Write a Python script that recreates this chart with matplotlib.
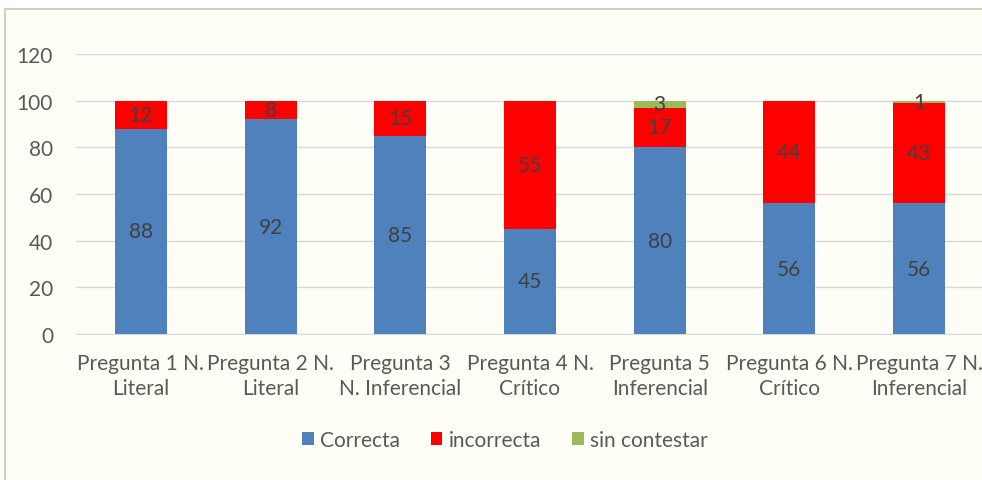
import matplotlib
matplotlib.use("Agg")
import matplotlib.pyplot as plt
from matplotlib.patches import Rectangle
import numpy as np

categories = ["Pregunta 1 N.\nLiteral", "Pregunta 2 N.\nLiteral", "Pregunta 3\nN. Inferencial",
              "Pregunta 4 N.\nCrítico", "Pregunta 5\nInferencial", "Pregunta 6 N.\nCrítico",
              "Pregunta 7 N.\nInferencial"]
correcta = [88, 92, 85, 45, 80, 56, 56]
incorrecta = [12, 8, 15, 55, 17, 44, 43]
sin_contestar = [0, 0, 0, 0, 3, 0, 1]
series_names = ["Correcta", "incorrecta", "sin contestar"]
colors = ["#4F81BD", "#FF0000", "#9BBB59"]
yticks = [0, 20, 40, 60, 80, 100, 120]

plt.rcParams['font.family'] = ['Lato', 'DejaVu Sans']
txt = "#595959"
fs = 15

fig = plt.figure(figsize=(9.82, 4.81), dpi=100)
fig.patch.set_facecolor("white")
# outer chart frame
fig.add_artist(Rectangle((5/982, -0.01), 1.0, (481-10)/481 + 0.01, transform=fig.transFigure,
                         facecolor="#FEFEF7", edgecolor="#C8C8A8", linewidth=1.2, zorder=-10))

ax = fig.add_axes([76/982, (481-335)/481, 1.0 - 76/982 + 0.002, (335-55)/481])
ax.set_facecolor("none")
x = np.arange(len(categories))
w = 0.40
series = [correcta, incorrecta, sin_contestar]
bottom = np.zeros(len(categories))
for vals, name, c in zip(series, series_names, colors):
    vals = np.array(vals, dtype=float)
    ax.bar(x, vals, w, bottom=bottom, color=c, label=name, zorder=3)
    for xi, v, b in zip(x, vals, bottom):
        if v > 0:
            ax.text(xi, b + v/2, f"{int(v)}", ha="center", va="center",
                    fontsize=fs, color="#404040", zorder=4)
    bottom += vals

ax.set_ylim(0, 120)
ax.set_xlim(-0.5, len(categories) - 0.5)
ax.set_yticks(yticks)
ax.set_xticks(x)
ax.set_xticklabels(categories, fontsize=fs, color=txt, linespacing=1.3)
ax.tick_params(axis="y", labelsize=fs, labelcolor=txt, length=0, pad=16.5)
ax.tick_params(axis="x", length=0, pad=14)
ax.grid(axis="y", color="#D9D9D9", linewidth=1, zorder=0)
for s in ["top", "right", "left"]:
    ax.spines[s].set_visible(False)
ax.spines["bottom"].set_color("#D9D9D9")

leg = fig.legend(loc="center", bbox_to_anchor=(505/982, (481-441)/481), ncol=3, frameon=False,
                 fontsize=fs, handlelength=0.55, handleheight=0.55, handletextpad=0.3,
                 columnspacing=1.5)
for t in leg.get_texts():
    t.set_color(txt)

fig.savefig("out.png", dpi=100)
